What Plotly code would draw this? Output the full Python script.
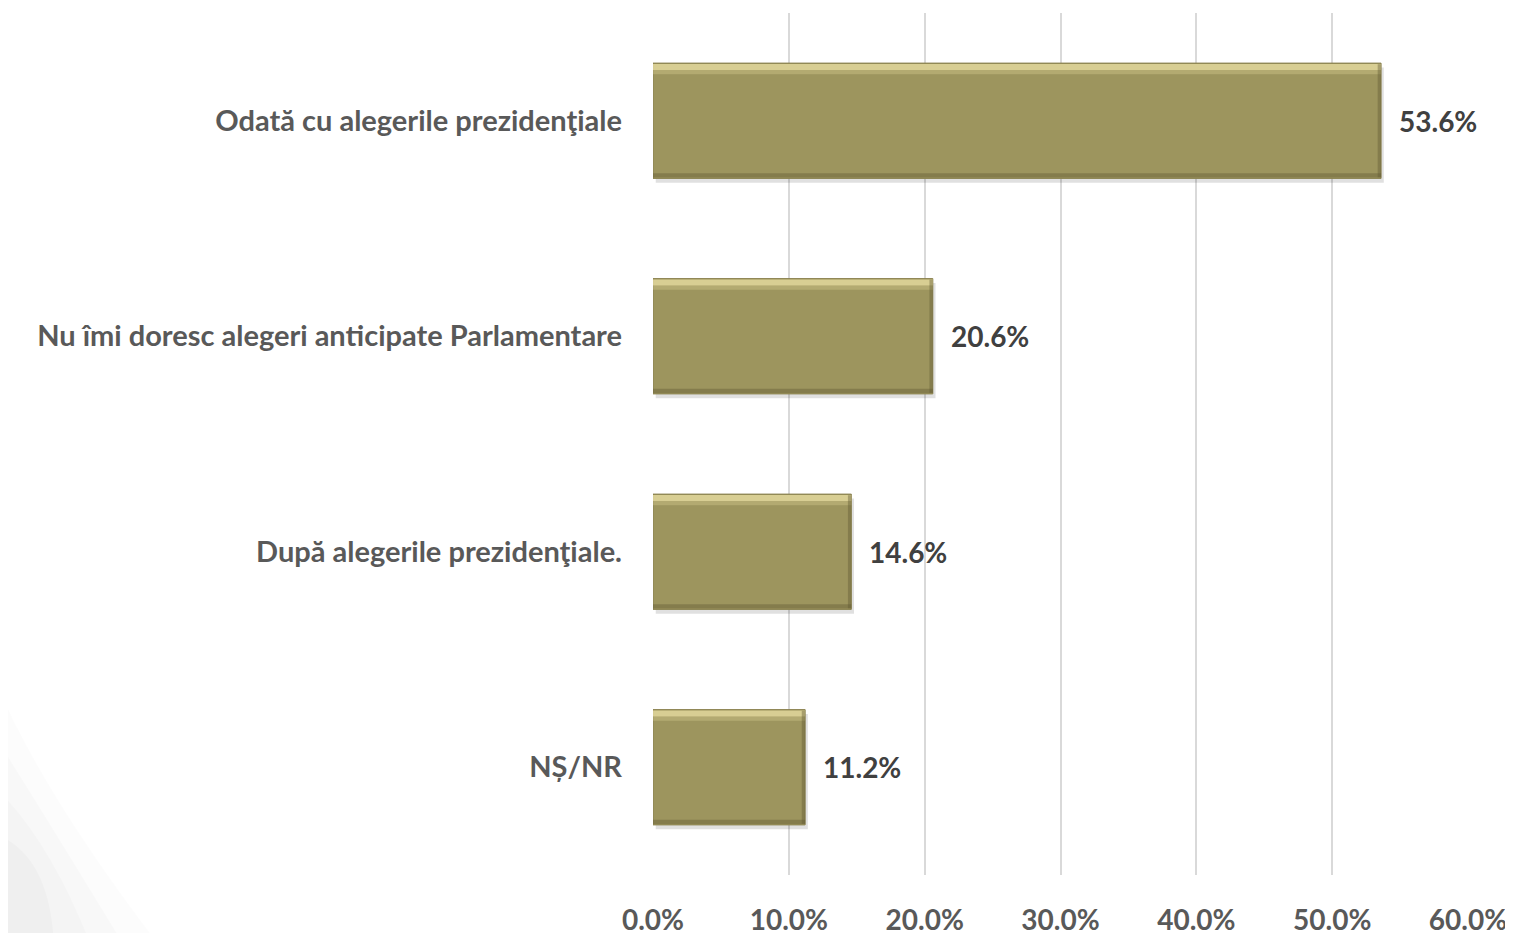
import plotly.graph_objects as go

categorii = [
    "Odată cu alegerile prezidenţiale",
    "Nu îmi doresc alegeri anticipate Parlamentare",
    "După alegerile prezidenţiale.",
    "NȘ/NR",
]
procente = [53.6, 20.6, 14.6, 11.2]
valori_ticks = [0, 10, 20, 30, 40, 50, 60]
etichete_ticks = ["0.0%", "10.0%", "20.0%", "30.0%", "40.0%", "50.0%", "60.0%"]

font_nume = "Lato"
culoare_bara = "#9D955E"
latime = 0.535
margine_dreapta = 0.25  # latimea muchiei intunecate, in unitati de procent

fig = go.Figure()

# umbra bare
fig.add_trace(go.Bar(
    x=procente, y=categorii, orientation="h", base=0.2,
    width=latime, offset=-latime / 2 + 0.02,
    marker=dict(color="rgba(0,0,0,0.12)", line=dict(width=0)),
    hoverinfo="skip",
))
# bara principala
fig.add_trace(go.Bar(
    x=procente, y=categorii, orientation="h",
    width=latime, offset=-latime / 2,
    marker=dict(color=culoare_bara, line=dict(color="#8A8250", width=1)),
    hoverinfo="skip",
))
# muchia de sus (lumina)
fig.add_trace(go.Bar(
    x=procente, y=categorii, orientation="h",
    width=0.028, offset=-latime / 2 + 0.004,
    marker=dict(color="rgba(236,226,165,0.75)", line=dict(width=0)),
    hoverinfo="skip",
))
fig.add_trace(go.Bar(
    x=procente, y=categorii, orientation="h",
    width=0.02, offset=-latime / 2 + 0.032,
    marker=dict(color="rgba(236,226,165,0.28)", line=dict(width=0)),
    hoverinfo="skip",
))
# muchia de jos (umbra)
fig.add_trace(go.Bar(
    x=procente, y=categorii, orientation="h",
    width=0.02, offset=latime / 2 - 0.024,
    marker=dict(color="rgba(95,88,50,0.4)", line=dict(width=0)),
    hoverinfo="skip",
))
# muchia din dreapta (umbra)
fig.add_trace(go.Bar(
    x=[margine_dreapta] * len(procente), y=categorii, orientation="h",
    base=[v - margine_dreapta for v in procente],
    width=latime - 0.01, offset=-latime / 2 + 0.005,
    marker=dict(color="rgba(95,88,50,0.4)", line=dict(width=0)),
    hoverinfo="skip",
))

# etichete valori
for cat, val in zip(categorii, procente):
    fig.add_annotation(
        x=val, y=cat, text=f"<b>{val:.1f}%</b>", showarrow=False,
        xanchor="left", xshift=16,
        font=dict(family=font_nume, size=28, color="#404040"),
    )

# fundal gri discret stanga jos
for x_capat, y_varf, op in [(-0.607, 0.21, 0.012), (-0.65, 0.15, 0.014),
                            (-0.69, 0.095, 0.016), (-0.735, 0.045, 0.018)]:
    fig.add_shape(
        type="path", xref="paper", yref="paper", layer="below",
        path=f"M -0.80 -0.08 L {x_capat} -0.08 Q -0.74 {y_varf * 0.4} -0.80 {y_varf} Z",
        fillcolor=f"rgba(0,0,0,{op})", line=dict(width=0),
    )

fig.update_layout(
    width=1513,
    height=933,
    barmode="overlay",
    showlegend=False,
    plot_bgcolor="rgba(0,0,0,0)",
    paper_bgcolor="white",
    margin=dict(l=645, r=53, t=5, b=62),
    xaxis=dict(
        range=[0, 60],
        tickvals=valori_ticks,
        ticktext=etichete_ticks,
        showgrid=True,
        gridcolor="#D9D9D9",
        gridwidth=1.5,
        zeroline=False,
        showline=False,
        ticks="",
        ticklabelstandoff=26,
        tickfont=dict(family=font_nume, size=28, color="#595959", weight="bold"),
    ),
    yaxis=dict(
        categoryorder="array",
        categoryarray=categorii,
        autorange="reversed",
        showgrid=False,
        zeroline=False,
        showline=False,
        ticks="",
        ticklabelstandoff=30,
        tickfont=dict(family=font_nume, size=29, color="#595959", weight="bold"),
    ),
)

fig.write_html("out.html")
